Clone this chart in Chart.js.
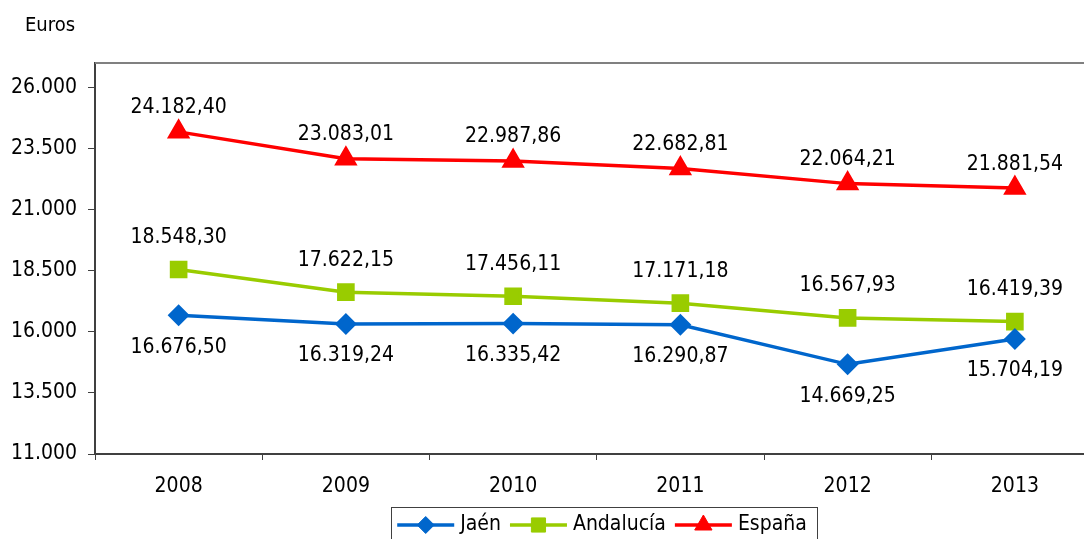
<!DOCTYPE html>
<html>
<head>
<meta charset="utf-8">
<script src="https://cdn.jsdelivr.net/npm/chart.js@4/dist/chart.umd.min.js"></script>
<style>
  html, body { margin: 0; padding: 0; background: #fff; overflow: hidden; }
  canvas { display: block; }
</style>
</head>
<body>
<canvas id="chart" width="1112" height="539"></canvas>
<script>
const years = ['2008', '2009', '2010', '2011', '2012', '2013'];
const jaen = [16676.50, 16319.24, 16335.42, 16290.87, 14669.25, 15704.19];
const andalucia = [18548.30, 17622.15, 17456.11, 17171.18, 16567.93, 16419.39];
const espana = [24182.40, 23083.01, 22987.86, 22682.81, 22064.21, 21881.54];
const yTickValues = [11000, 13500, 16000, 18500, 21000, 23500, 26000];

const FONT = '"DejaVu Sans Condensed", "DejaVu Sans", sans-serif';

function formatEs(value, decimals) {
    const parts = value.toFixed(decimals).split('.');
    const intPart = parts[0].replace(/\B(?=(\d{3})+(?!\d))/g, '.');
    return parts.length > 1 ? intPart + ',' + parts[1] : intPart;
}

// etiquetas de valor, título del eje, borde superior y leyenda
const decorPlugin = {
    id: 'decor',
    afterDatasetsDraw(chart) {
        const ctx = chart.ctx;
        const area = chart.chartArea;
        ctx.save();

        // borde superior del área
        ctx.strokeStyle = '#808080';
        ctx.lineWidth = 2;
        ctx.beginPath();
        ctx.moveTo(area.left, area.top);
        ctx.lineTo(chart.width, area.top);
        ctx.stroke();

        // valores
        ctx.font = '21px ' + FONT;
        ctx.fillStyle = '#000';
        ctx.textAlign = 'center';
        ctx.textBaseline = 'middle';
        chart.data.datasets.forEach((ds, i) => {
            const meta = chart.getDatasetMeta(i);
            meta.data.forEach((pt, j) => {
                ctx.fillText(formatEs(ds.data[j], 2), pt.x, pt.y + ds.labelOffset);
            });
        });

        // "Euros"
        ctx.font = '20px ' + FONT;
        ctx.textAlign = 'left';
        ctx.fillText('Euros', 25, 26);

        // leyenda
        const lineLen = 57;
        const gap = 6;
        const itemGap = 9;
        const cy = 525;
        ctx.font = '21px ' + FONT;
        const items = chart.data.datasets.map((ds) => ({
            ds,
            w: lineLen + gap + ctx.measureText(ds.label).width,
        }));
        const total = items.reduce((s, it) => s + it.w, 0) + itemGap * (items.length - 1);
        let x = 602 - total / 2;
        ctx.strokeStyle = '#404040';
        ctx.lineWidth = 1;
        ctx.strokeRect(Math.round(x - 6) + 0.5, 507.5, Math.round(total + 16), 50);
        items.forEach((it) => {
            const ds = it.ds;
            ctx.strokeStyle = ds.borderColor;
            ctx.fillStyle = ds.borderColor;
            ctx.lineWidth = ds.borderWidth;
            ctx.beginPath();
            ctx.moveTo(x, cy);
            ctx.lineTo(x + lineLen, cy);
            ctx.stroke();
            ctx.lineWidth = 1;
            Chart.helpers.drawPoint(ctx, {
                pointStyle: ds.pointStyle,
                radius: ds.pointRadius,
                rotation: 0,
                borderWidth: 1,
            }, x + lineLen / 2, cy);
            ctx.fillStyle = '#000';
            ctx.textBaseline = 'middle';
            ctx.fillText(ds.label, x + lineLen + gap, cy);
            x += it.w + itemGap;
        });

        ctx.restore();
    },
};

new Chart(document.getElementById('chart'), {
    type: 'line',
    data: {
        labels: years,
        datasets: [
            {
                label: 'Jaén',
                data: jaen,
                borderColor: '#0066CC',
                backgroundColor: '#0066CC',
                borderWidth: 3.5,
                pointStyle: 'rectRot',
                pointRadius: 8.5,
                labelOffset: 32,
            },
            {
                label: 'Andalucía',
                data: andalucia,
                borderColor: '#99CC00',
                backgroundColor: '#99CC00',
                borderWidth: 3.5,
                pointStyle: 'rect',
                pointRadius: 10,
                labelOffset: -32,
            },
            {
                label: 'España',
                data: espana,
                borderColor: '#FF0000',
                backgroundColor: '#FF0000',
                borderWidth: 3.5,
                pointStyle: 'triangle',
                pointRadius: 10,
                labelOffset: -24,
            },
        ],
    },
    options: {
        responsive: false,
        animation: false,
        devicePixelRatio: 1,
        layout: { padding: { top: 63, right: 3, left: 0, bottom: 0 } },
        plugins: {
            legend: { display: false },
            tooltip: { enabled: false },
        },
        elements: {
            line: { tension: 0 },
            point: { borderWidth: 1, hoverRadius: 8 },
        },
        scales: {
            x: {
                offset: true,
                grid: {
                    offset: true,
                    drawOnChartArea: false,
                    drawTicks: true,
                    tickLength: 6,
                    color: '#404040',
                },
                border: { color: '#404040', width: 2 },
                ticks: {
                    color: '#000',
                    font: { family: FONT, size: 21 },
                    padding: 14,
                    maxRotation: 0,
                },
                afterFit(scale) { scale.height = 85; },
            },
            y: {
                min: 11000,
                max: 27000,
                grid: {
                    drawOnChartArea: false,
                    drawTicks: true,
                    tickLength: 7,
                    color: '#404040',
                },
                border: { color: '#404040', width: 2 },
                ticks: {
                    color: '#000',
                    font: { family: FONT, size: 21 },
                    padding: 11,
                    callback: (v) => formatEs(v, 0),
                },
                afterBuildTicks(scale) {
                    scale.ticks = yTickValues.map((v) => ({ value: v }));
                },
                afterFit(scale) { scale.width = 95; },
            },
        },
    },
    plugins: [decorPlugin],
});
</script>
</body>
</html>
